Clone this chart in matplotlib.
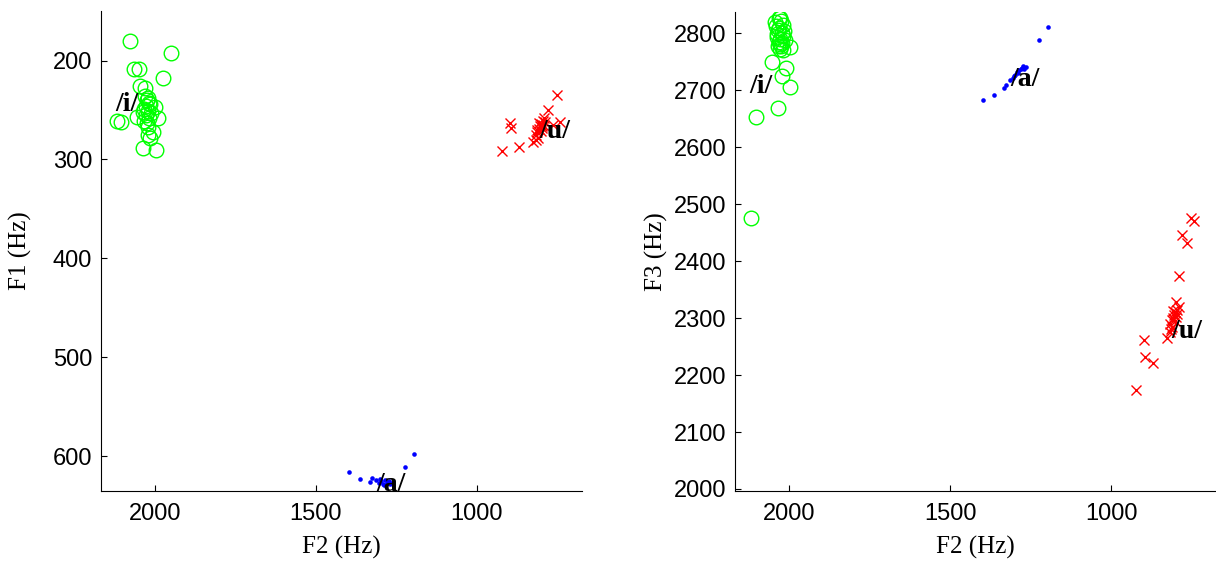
import matplotlib
matplotlib.use('Agg')
import matplotlib.pyplot as plt

# /i/ : F2, F1 (panneau gauche) et F2, F3 (panneau droit)
i_f2_left = [2077, 1950, 2065, 2049, 1975, 2046, 2030, 2117, 2105, 2055, 1999, 1990,
             2021, 2006, 2021, 2015, 2037, 1996, 2030, 2024, 2018, 2027, 2034, 2021,
             2013, 2028, 2019, 2032, 2025, 2016, 2038, 2022]
i_f1 = [180, 192, 209, 209, 218, 226, 228, 261, 262, 257, 247, 258,
        267, 272, 275, 278, 288, 291, 236, 240, 243, 246, 249, 251,
        253, 255, 258, 261, 263, 244, 252, 238]
i_f2_right = [2031, 2053, 2010, 2022, 1997, 2034, 2103, 2118, 2044, 2028, 2019, 2034,
              2038, 2013, 2028, 1997, 2019, 2022, 2025, 2030, 2036, 2020, 2027, 2032,
              2024, 2016, 2040, 2029, 2021, 2035]
i_f3 = [2826, 2749, 2739, 2725, 2705, 2668, 2653, 2475, 2819, 2826, 2814, 2805,
        2793, 2788, 2782, 2775, 2770, 2800, 2821, 2810, 2798, 2795, 2790, 2785,
        2778, 2804, 2812, 2772, 2783, 2777]

# /a/
a_f2 = [1397, 1363, 1332, 1326, 1223, 1195, 1314, 1305, 1298, 1292, 1285, 1280,
        1277, 1274, 1270, 1264, 1288, 1300]
a_f1 = [616, 623, 626, 622, 611, 598, 624, 627, 625, 628, 624, 627,
        626, 625, 628, 627, 629, 623]
a_f3 = [2682, 2691, 2704, 2709, 2789, 2811, 2718, 2722, 2727, 2732, 2735, 2737,
        2739, 2742, 2738, 2740, 2730, 2725]

# /u/
u_f2 = [751, 742, 779, 764, 897, 894, 869, 921, 825, 789, 798,
        790, 795, 800, 804, 808, 812, 816, 806, 798, 810, 802, 794, 814, 817]
u_f1 = [235, 262, 250, 265, 263, 268, 287, 292, 282, 262, 266,
        258, 261, 264, 266, 269, 272, 275, 263, 268, 278, 271, 265, 270, 280]
u_f3 = [2475, 2470, 2446, 2432, 2262, 2232, 2221, 2174, 2265, 2374, 2328,
        2320, 2315, 2310, 2305, 2300, 2296, 2290, 2312, 2302, 2285, 2295, 2308, 2280, 2276]

# Étiquettes des voyelles
labels = ['/i/', '/a/', '/u/']
label_f2_left = [2122, 1312, 805]
label_f1 = [244, 629, 272]
label_f2_right = [2122, 1314, 812]
label_f3 = [2707, 2718, 2277]

label_font = {'family': 'Liberation Serif', 'size': 18}

fig = plt.figure(figsize=(12.16, 5.61), dpi=100)
ax1 = fig.add_axes([0.0828, 0.1253, 0.3956, 0.855])
ax2 = fig.add_axes([0.6044, 0.1253, 0.3956, 0.853])

# Panneau gauche : F2 / F1
ax1.plot(i_f2_left, i_f1, 'o', mfc='none', mec=(0, 1, 0), ms=10.5, mew=1)
ax1.plot(u_f2, u_f1, 'x', color=(1, 0, 0), ms=7.5, mew=1)
ax1.plot(a_f2, a_f1, 'o', color=(0, 0, 1), ms=3.3, mew=0)
for lab, x, y in zip(labels, label_f2_left, label_f1):
    ax1.text(x, y, lab, family='Liberation Serif', weight='bold', size=20,
             ha='left', va='center')
ax1.set_xlim(2168, 674)
ax1.set_ylim(635, 150)
ax1.set_xticks([2000, 1500, 1000])
ax1.set_yticks([200, 300, 400, 500, 600])
ax1.set_xlabel('F2 (Hz)', fontdict=label_font, labelpad=8)
ax1.set_ylabel('F1 (Hz)', fontdict=label_font, labelpad=15)

# Panneau droit : F2 / F3
ax2.plot(i_f2_right, i_f3, 'o', mfc='none', mec=(0, 1, 0), ms=10.5, mew=1)
ax2.plot(u_f2, u_f3, 'x', color=(1, 0, 0), ms=7.5, mew=1)
ax2.plot(a_f2, a_f3, 'o', color=(0, 0, 1), ms=3.3, mew=0)
for lab, x, y in zip(labels, label_f2_right, label_f3):
    ax2.text(x, y, lab, family='Liberation Serif', weight='bold', size=20,
             ha='left', va='center')
ax2.set_xlim(2168, 674)
ax2.set_ylim(1997, 2837)
ax2.set_xticks([2000, 1500, 1000])
ax2.set_yticks(range(2000, 2801, 100))
ax2.set_xlabel('F2 (Hz)', fontdict=label_font, labelpad=8)
ax2.set_ylabel('F3 (Hz)', fontdict=label_font, labelpad=4)

for ax in (ax1, ax2):
    ax.spines['top'].set_visible(False)
    ax.spines['right'].set_visible(False)
    ax.tick_params(direction='in', length=4, width=0.8, labelsize=17)
    ax.tick_params(axis='x', pad=9)
    ax.tick_params(axis='y', pad=6)
    for t in ax.get_xticklabels() + ax.get_yticklabels():
        t.set_family('Liberation Sans')

fig.savefig('out.png', dpi=100)
